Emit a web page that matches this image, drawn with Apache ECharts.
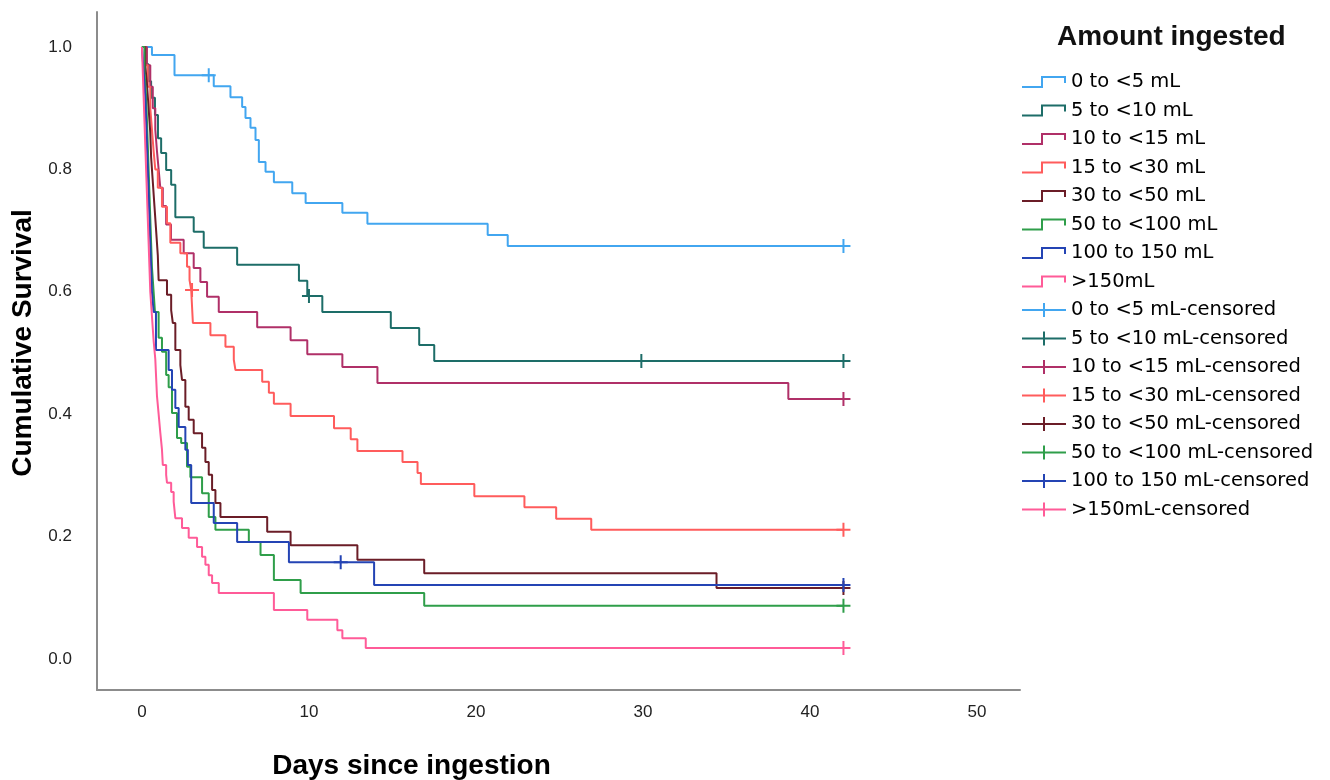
<!DOCTYPE html>
<html>
<head>
<meta charset="utf-8">
<title>Cumulative Survival by amount ingested</title>
<script src="https://cdn.jsdelivr.net/npm/echarts@6.0.0/dist/echarts.min.js"></script>
<style>
  html, body { margin: 0; padding: 0; background: #fff; }
  #main { width: 1330px; height: 780px; }
</style>
</head>
<body>
<div id="main"></div>
<script>
// group names and colours, in legend order
const groups = ["0 to <5 mL", "5 to <10 mL", "10 to <15 mL", "15 to <30 mL",
  "30 to <50 mL", "50 to <100 mL", "100 to 150 mL", ">150mL"];
const colors = ["#42a6f0", "#1d6d68", "#b03068", "#ff5c5c",
  "#6b1d27", "#2f9e4a", "#2444b4", "#ff5b98"];

// Kaplan-Meier steps: [day, survival after the drop]
const km0to5 = [[0, 1], [0.6, 0.987], [1.95, 0.954], [4.3, 0.936], [5.3, 0.918], [6.0, 0.902],
  [6.2, 0.884], [6.5, 0.868], [6.8, 0.848], [7.0, 0.812], [7.4, 0.796], [7.9, 0.779],
  [9.0, 0.761], [9.8, 0.745], [12.0, 0.729], [13.5, 0.711], [20.7, 0.693], [21.9, 0.675], [42, 0.675]];
const km5to10 = [[0, 1], [0.2, 0.972], [0.4, 0.944], [0.55, 0.917], [0.78, 0.889], [0.96, 0.851],
  [1.15, 0.827], [1.45, 0.799], [1.75, 0.775], [2.0, 0.722], [3.1, 0.698], [3.7, 0.672],
  [5.7, 0.644], [9.4, 0.618], [9.9, 0.593], [10.8, 0.567], [14.9, 0.541], [16.6, 0.513],
  [17.5, 0.487], [42, 0.487]];
const km10to15 = [[0, 1], [0.3, 0.97], [0.5, 0.935], [0.65, 0.9], [0.8, 0.865], [0.9, 0.83],
  [1.0, 0.8], [1.1, 0.77], [1.25, 0.74], [1.45, 0.71], [1.74, 0.685], [2.5, 0.663], [3.1, 0.639],
  [3.5, 0.616], [3.9, 0.592], [4.6, 0.567], [6.9, 0.542], [8.9, 0.521], [9.9, 0.498],
  [12.0, 0.477], [14.1, 0.451], [38.7, 0.425], [42, 0.425]];
const km15to30 = [[0, 1], [0.2, 0.97], [0.35, 0.935], [0.5, 0.9], [0.6, 0.865], [0.7, 0.83],
  [0.8, 0.8], [0.95, 0.77], [1.2, 0.739], [1.5, 0.712], [1.7, 0.68], [2.3, 0.663], [2.7, 0.641],
  [2.85, 0.619], [2.95, 0.603], [3.05, 0.549], [4.1, 0.529], [5.0, 0.51], [5.5, 0.489],
  [5.6, 0.472], [7.2, 0.453], [7.6, 0.435], [7.9, 0.417], [8.9, 0.397], [11.5, 0.377],
  [12.5, 0.359], [12.9, 0.34], [15.6, 0.322], [16.5, 0.304], [16.7, 0.286], [19.9, 0.266],
  [22.9, 0.248], [24.8, 0.229], [26.9, 0.211], [42, 0.211]];
const km30to50 = [[0, 1], [0.2, 0.97], [0.3, 0.94], [0.4, 0.9], [0.5, 0.86], [0.55, 0.82],
  [0.65, 0.78], [0.75, 0.74], [0.85, 0.7], [0.95, 0.66], [1.0, 0.619], [1.5, 0.595],
  [1.75, 0.57], [1.85, 0.549], [2.0, 0.505], [2.3, 0.48], [2.4, 0.456], [2.6, 0.412],
  [2.8, 0.391], [3.1, 0.369], [3.6, 0.345], [3.8, 0.322], [4.0, 0.301], [4.2, 0.276],
  [4.4, 0.255], [4.7, 0.232], [7.5, 0.208], [8.9, 0.186], [12.9, 0.162], [16.9, 0.14],
  [34.4, 0.116], [42, 0.116]];
const km50to100 = [[0, 1], [0.15, 0.96], [0.25, 0.92], [0.3, 0.88], [0.35, 0.84], [0.4, 0.8],
  [0.45, 0.76], [0.5, 0.72], [0.55, 0.68], [0.6, 0.64], [0.7, 0.6], [0.78, 0.567], [1.0, 0.525],
  [1.2, 0.502], [1.45, 0.464], [1.6, 0.444], [1.8, 0.402], [2.1, 0.361], [2.35, 0.353],
  [2.7, 0.314], [2.9, 0.297], [3.6, 0.271], [4.0, 0.232], [4.4, 0.211], [6.4, 0.191],
  [7.1, 0.17], [7.9, 0.129], [9.5, 0.108], [16.9, 0.087], [42, 0.087]];
const km100to150 = [[0, 1], [0.1, 0.96], [0.2, 0.92], [0.25, 0.88], [0.3, 0.84], [0.35, 0.8],
  [0.4, 0.76], [0.45, 0.72], [0.5, 0.68], [0.55, 0.64], [0.6, 0.6], [0.7, 0.567], [0.84, 0.505],
  [1.6, 0.472], [1.8, 0.44], [2.0, 0.41], [2.2, 0.379], [2.6, 0.342], [2.75, 0.317],
  [2.95, 0.255], [4.3, 0.222], [5.7, 0.191], [8.8, 0.158], [13.9, 0.121], [42, 0.121]];
const kmOver150 = [[0, 1], [0.05, 0.96], [0.1, 0.92], [0.15, 0.88], [0.2, 0.84], [0.25, 0.8],
  [0.3, 0.76], [0.35, 0.72], [0.4, 0.68], [0.45, 0.64], [0.5, 0.6], [0.6, 0.56], [0.7, 0.52],
  [0.8, 0.49], [0.85, 0.46], [0.9, 0.43], [1.0, 0.4], [1.1, 0.37], [1.2, 0.342], [1.25, 0.317],
  [1.45, 0.301], [1.5, 0.288], [1.75, 0.273], [1.9, 0.257], [2.0, 0.23], [2.4, 0.214],
  [2.8, 0.198], [3.3, 0.183], [3.6, 0.167], [3.8, 0.154], [4.0, 0.137], [4.2, 0.124],
  [4.6, 0.108], [7.9, 0.08], [9.9, 0.064], [11.7, 0.047], [12.0, 0.034], [13.4, 0.018], [42, 0.018]];

// censored observations: [day, survival]
const cens0to5 = [[4.0, 0.954], [42, 0.675]];
const cens5to10 = [[10.0, 0.593], [29.9, 0.487], [42, 0.487]];
const cens10to15 = [[42, 0.425]];
const cens15to30 = [[3.0, 0.603], [42, 0.211]];
const cens30to50 = [[42, 0.116]];
const cens50to100 = [[42, 0.087]];
const cens100to150 = [[11.9, 0.158], [42, 0.121]];
const censOver150 = [[42, 0.018]];

const xTicks = [0, 10, 20, 30, 40, 50];
const yTicks = [0, 0.2, 0.4, 0.6, 0.8, 1.0];

const kmData = [km0to5, km5to10, km10to15, km15to30, km30to50, km50to100, km100to150, kmOver150];
const censData = [cens0to5, cens5to10, cens10to15, cens15to30, cens30to50, cens50to100, cens100to150, censOver150];

const stepIcon = "path://M0,11H19V1H44V8H42V3H21V13H0Z";
const crossIcon = "path://M0,6H44V8H0Z M21,0H23V14H21Z";
const crossSymbol = "path://M0,6H14V8H0Z M6,0H8V14H6Z";

const series = [];
const legendData = [];
groups.forEach(function (g, i) {
  series.push({
    name: g,
    type: "line",
    step: "end",
    showSymbol: false,
    data: kmData[i],
    itemStyle: {color: colors[i]},
    lineStyle: {color: colors[i], width: 2},
    z: 2,
  });
  legendData.push({name: g, icon: stepIcon});
});
groups.forEach(function (g, i) {
  series.push({
    name: g + "-censored",
    type: "scatter",
    symbol: crossSymbol,
    symbolSize: 14,
    data: censData[i],
    itemStyle: {color: colors[i], opacity: 1},
    z: 3,
  });
  legendData.push({name: g + "-censored", icon: crossIcon});
});

const myChart = echarts.init(document.getElementById("main"));
const option = {
  animation: false,
  backgroundColor: "#fff",
  title: {
    text: "Amount ingested",
    left: 1057,
    top: 23,
    padding: 0,
    textStyle: {fontFamily: "Liberation Sans", fontSize: 28, fontWeight: "bold", color: "#111"},
  },
  legend: {
    orient: "vertical",
    left: 1022,
    top: 72,
    padding: 0,
    itemWidth: 44,
    itemHeight: 14,
    itemGap: 8.5,
    itemStyle: {borderWidth: 0},
    textStyle: {fontFamily: "DejaVu Sans", fontSize: 19.5, color: "#000", lineHeight: 20},
    data: legendData,
  },
  grid: {left: 97, right: 310, top: 12, bottom: 90, outerBoundsMode: "none"},
  xAxis: {
    type: "value",
    min: -2.69,
    max: 52.57,
    name: "Days since ingestion",
    nameLocation: "middle",
    nameGap: 62,
    nameTextStyle: {fontFamily: "Liberation Sans", fontSize: 28, fontWeight: "bold", color: "#000", padding: [0, 294, 0, 0]},
    axisLine: {show: true, onZero: false, lineStyle: {color: "#8c8c8c", width: 2}},
    axisTick: {show: false},
    splitLine: {show: false},
    axisLabel: {customValues: xTicks, margin: 14, fontFamily: "Liberation Sans", fontSize: 17, color: "#222"},
  },
  yAxis: {
    type: "value",
    min: -0.0507,
    max: 1.0572,
    name: "Cumulative Survival",
    nameLocation: "middle",
    nameGap: 57,
    nameTextStyle: {fontFamily: "Liberation Sans", fontSize: 28, fontWeight: "bold", color: "#000", padding: [0, 0, 0, 16]},
    axisLine: {show: true, onZero: false, lineStyle: {color: "#8c8c8c", width: 2}},
    axisTick: {show: false},
    splitLine: {show: false},
    axisLabel: {
      customValues: yTicks,
      margin: 25,
      fontFamily: "Liberation Sans",
      fontSize: 17,
      color: "#222",
      formatter: function (v) { return v.toFixed(1); },
    },
  },
  series: series,
};
myChart.setOption(option);
</script>
</body>
</html>
